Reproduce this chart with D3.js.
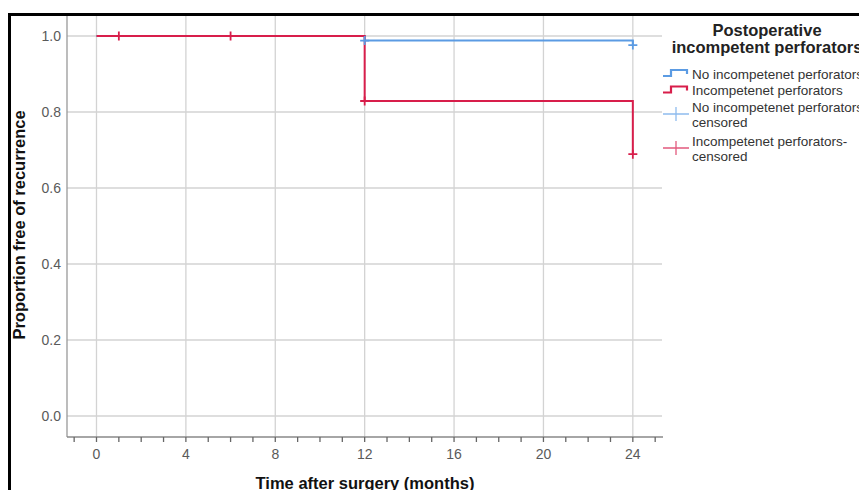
<!DOCTYPE html>
<html><head><meta charset="utf-8">
<script src="https://cdn.jsdelivr.net/npm/d3@7"></script>
<style>
body{margin:0;background:#fff;}
svg{display:block;font-family:"Liberation Sans",Arial,sans-serif;}
</style></head>
<body>
<svg id="c" width="859" height="490"></svg>
<script>
// Data
const seriesNames = ["No incompetenet perforators", "Incompetenet perforators"];
const noIncTimes = [0, 12, 24];
const noIncSurv = [1.0, 0.988, 0.976];
const noIncCensorT = [12, 24];
const noIncCensorS = [0.988, 0.976];
const incTimes = [0, 12, 24];
const incSurv = [1.0, 0.829, 0.689];
const incCensorT = [1, 6, 12, 24];
const incCensorS = [1.0, 1.0, 0.829, 0.689];
const xTicks = [0, 4, 8, 12, 16, 20, 24];
const xMinor = d3.range(-1, 26);
const yTicks = [0, 0.2, 0.4, 0.6, 0.8, 1.0];
const legendTitle = ["Postoperative", "incompetent perforators"];
const legendLabels = [["No incompetenet perforators"], ["Incompetenet perforators"], ["No incompetenet perforators-", "censored"], ["Incompetenet perforators-", "censored"]];

const blue = "#5b9be3", red = "#d81e4b", blueLight = "#8fbcee", redLight = "#e25a7e";
const svg = d3.select("#c");

const x = d3.scaleLinear().domain([-1.32, 25.35]).range([67, 663]);
const y = d3.scaleLinear().domain([0, 1]).range([416, 36]);
const yTop = 15, yBot = 437;

// frame border
svg.append("path").attr("d", "M9.5,490 L9.5,14.5 L859,14.5").attr("fill", "none").attr("stroke", "#000").attr("stroke-width", 3);

// gridlines
const g = svg.append("g");
g.selectAll(".vg").data(xTicks).join("line")
  .attr("x1", d => x(d)).attr("x2", d => x(d)).attr("y1", yTop + 1).attr("y2", yBot)
  .attr("stroke", "#d3d3d3").attr("stroke-width", 1.3);
g.selectAll(".hg").data(yTicks).join("line")
  .attr("x1", 67).attr("x2", 662).attr("y1", d => y(d)).attr("y2", d => y(d))
  .attr("stroke", "#d3d3d3").attr("stroke-width", 1.3);

// axes lines
svg.append("line").attr("x1", 67).attr("x2", 67).attr("y1", yTop + 1).attr("y2", yBot).attr("stroke", "#999").attr("stroke-width", 1.3);
svg.append("line").attr("x1", 67).attr("x2", 663).attr("y1", yBot).attr("y2", yBot).attr("stroke", "#888").attr("stroke-width", 1.3);
// minor ticks
svg.selectAll(".mt").data(xMinor).join("line")
  .attr("x1", d => x(d)).attr("x2", d => x(d)).attr("y1", yBot).attr("y2", yBot + 5)
  .attr("stroke", "#666").attr("stroke-width", 1.3);

// tick labels
svg.selectAll(".xl").data(xTicks).join("text")
  .attr("x", d => x(d)).attr("y", 459).attr("text-anchor", "middle")
  .attr("font-size", 14).attr("fill", "#5a5a5a").text(d => d);
svg.selectAll(".yl").data(yTicks).join("text")
  .attr("x", 61).attr("y", d => y(d) + 5).attr("text-anchor", "end")
  .attr("font-size", 14).attr("fill", "#5a5a5a").text(d => d.toFixed(1));

// axis titles
svg.append("text").attr("transform", "translate(24.5,225) rotate(-90)").attr("text-anchor", "middle")
  .attr("font-size", 16.5).attr("font-weight", "bold").attr("fill", "#111").text("Proportion free of recurrence");
svg.append("text").attr("x", 365).attr("y", 489).attr("text-anchor", "middle")
  .attr("font-size", 16.5).attr("font-weight", "bold").attr("fill", "#111").text("Time after surgery (months)");

// curves
const line = d3.line().x(d => x(d[0])).y(d => y(d[1])).curve(d3.curveStepAfter);
svg.append("path").attr("d", line(d3.zip(noIncTimes, noIncSurv))).attr("fill", "none").attr("stroke", blue).attr("stroke-width", 2);
svg.append("path").attr("d", line(d3.zip(incTimes, incSurv))).attr("fill", "none").attr("stroke", red).attr("stroke-width", 2);

function censor(ts, ss, col) {
  const pts = d3.zip(ts, ss);
  svg.append("g").selectAll("path").data(pts).join("path")
    .attr("d", d => `M${x(d[0]) - 4.5},${y(d[1])}h9M${x(d[0])},${y(d[1]) - 4.5}v9`)
    .attr("stroke", col).attr("stroke-width", 1.8).attr("fill", "none");
}
censor(noIncCensorT, noIncCensorS, blue);
censor(incCensorT, incCensorS, red);

// legend
const lg = svg.append("g");
lg.selectAll(".lt").data(legendTitle).join("text")
  .attr("x", 767).attr("y", (d, i) => 36 + i * 16.5).attr("text-anchor", "middle")
  .attr("font-size", 16.5).attr("font-weight", "bold").attr("fill", "#222").text(d => d);
const stepCols = [blue, red];
stepCols.forEach((c, i) => {
  const yy = 76 + i * 16.5;
  lg.append("path").attr("d", `M663,${yy}H671V${yy - 6}H687V${yy - 2}`).attr("fill", "none").attr("stroke", c).attr("stroke-width", 2.2);
});
const crossCols = [blueLight, redLight];
crossCols.forEach((c, i) => {
  const yy = 114 + i * 34;
  lg.append("path").attr("d", `M663,${yy}H689M676,${yy - 7}V${yy + 7}`).attr("fill", "none").attr("stroke", c).attr("stroke-width", 1.3);
});
const labelY = [[79], [95], [112], [127], [146], [161]];
const labelYs = [[79], [95], [112, 127], [146, 161]];
legendLabels.forEach((lines, i) => {
  lines.forEach((t, j) => {
    lg.append("text").attr("x", 692).attr("y", labelYs[i][j]).attr("font-size", 13.5).attr("fill", "#333").text(t);
  });
});
</script>
</body></html>
